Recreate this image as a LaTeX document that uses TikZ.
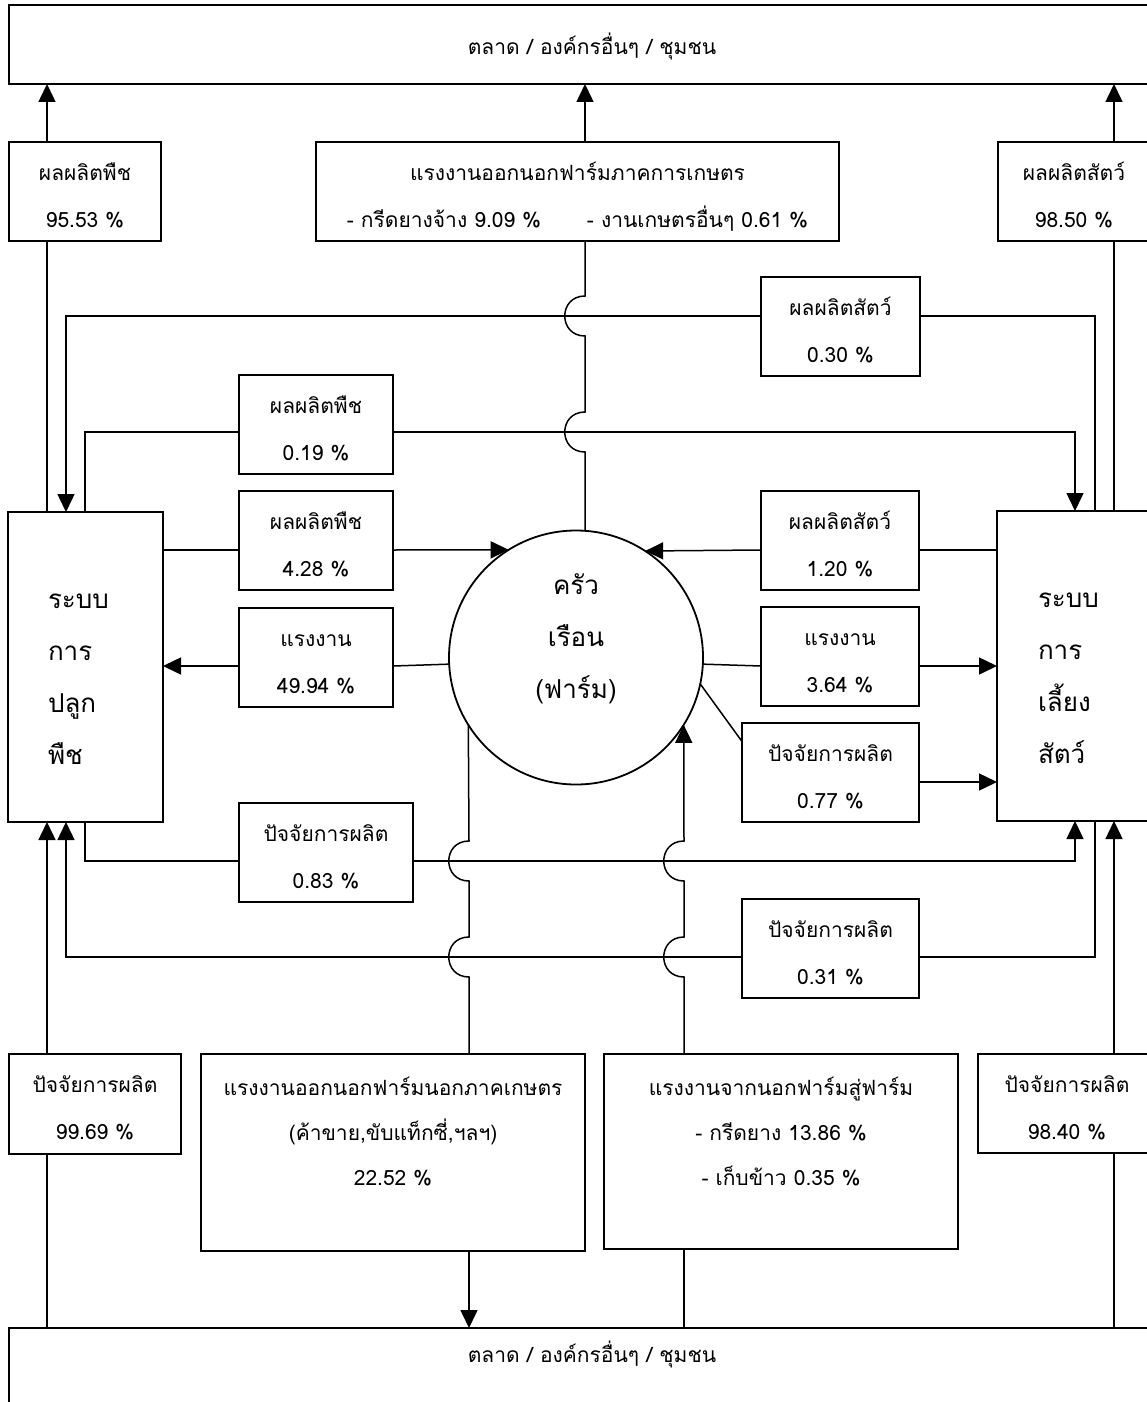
\documentclass[tikz,border=0pt]{standalone}
\usepackage{fontspec}
\setmainfont[Script=Thai]{Loma}
\usetikzlibrary{arrows.meta}
\begin{document}
\begin{tikzpicture}[x=1pt,y=-1pt,
  box/.style={draw, line width=1.8pt, anchor=north west, inner sep=0pt, outer sep=0pt,
    align=center, font=\fontsize{21}{47}\selectfont},
  two/.style={box, text height=85pt, text depth=14pt, minimum height=99pt},
  big/.style={box, align=left, font=\fontsize{26}{52}\selectfont, minimum height=310pt,
    text height=96pt, text depth=214pt},
  conn/.style={line width=1.5pt},
  arr/.style={conn, -{Triangle[length=18pt,width=17pt]}},
  hopdown/.style 2 args={insert path={-- (#1,#2-20) .. controls (#1-27,#2-20) and (#1-27,#2+20) .. (#1,#2+20)}},
  hopup/.style 2 args={insert path={-- (#1,#2+20) .. controls (#1-27,#2+20) and (#1-27,#2-20) .. (#1,#2-20)}},
]
\useasboundingbox (0,0) rectangle (1147,1402);
\fill[white] (0,0) rectangle (1147,1402);
\clip (0,0) rectangle (1147,1402);

% line levels
\coordinate (xa) at (47,0);
\coordinate (xc1) at (66,0);
\coordinate (xc2) at (85,0);
\coordinate (xm) at (585,0);
\coordinate (xn) at (469,0);
\coordinate (xo) at (684,0);
\coordinate (xl1) at (1075,0);
\coordinate (xl2) at (1095,0);
\coordinate (xl3) at (1114,0);
\coordinate (y1) at (0,316);
\coordinate (y2) at (0,432);
\coordinate (y3) at (0,550);
\coordinate (y4) at (0,666);
\coordinate (y5) at (0,782);
\coordinate (y6) at (0,861);
\coordinate (y7) at (0,957);

% outer boxes
\node[box, minimum width=1166pt, minimum height=79pt, text height=50pt, text depth=29pt] (top) at (9,5) {ตลาด / องค์กรอื่นๆ / ชุมชน};
\node[box, minimum width=1166pt, minimum height=100pt, text height=34pt, text depth=66pt] (bottom) at (9,1328) {ตลาด / องค์กรอื่นๆ / ชุมชน};

% top row
\node[two, minimum width=152pt] (A) at (9,142) {ผลผลิตพืช\\95.53 \%};
\node[two, minimum width=523pt] (B) at (316,142) {แรงงานออกนอกฟาร์มภาคการเกษตร\\- กรีดยางจ้าง 9.09 \%\hspace{46pt}- งานเกษตรอื่นๆ 0.61 \%};
\node[two, minimum width=152pt] (C) at (998,142) {ผลผลิตสัตว์\\98.50 \%};

% middle boxes
\node[two, minimum width=159pt] (D) at (761,277) {ผลผลิตสัตว์\\0.30 \%};
\node[two, minimum width=154pt] (E) at (239,375) {ผลผลิตพืช\\0.19 \%};
\node[two, minimum width=154pt] (F) at (239,491) {ผลผลิตพืช\\4.28 \%};
\node[two, minimum width=158pt] (G) at (761,491) {ผลผลิตสัตว์\\1.20 \%};
\node[two, minimum width=154pt] (H) at (239,608) {แรงงาน\\49.94 \%};
\node[two, minimum width=158pt] (I) at (761,607) {แรงงาน\\3.64 \%};
\node[two, minimum width=177pt] (J) at (742,723) {ปัจจัยการผลิต\\0.77 \%};
\node[two, minimum width=174pt] (K) at (239,803) {ปัจจัยการผลิต\\0.83 \%};
\node[two, minimum width=177pt] (L) at (742,899) {ปัจจัยการผลิต\\0.31 \%};

% systems
\node[big, minimum width=155pt, text width=75pt] (crop) at (8,512) {ระบบ\\การ\\ปลูก\\พืช};
\node[big, minimum width=170pt, text width=88pt] (live) at (997,511) {ระบบ\\การ\\เลี้ยง\\สัตว์};
\node[draw, circle, line width=1.8pt, minimum size=254pt, inner sep=0pt, outer sep=0pt,
  align=center, font=\fontsize{26}{52}\selectfont, text height=130pt, text depth=49pt]
  (circ) at (576,657.5) {ครัว\\เรือน\\(ฟาร์ม)};

% bottom row
\node[two, minimum width=172pt, minimum height=100pt] (M) at (9,1054) {ปัจจัยการผลิต\\99.69 \%};
\node[box, minimum width=384pt, minimum height=197pt, text height=131pt, text depth=66pt,
  font=\fontsize{21}{45}\selectfont] (N) at (201,1054) {แรงงานออกนอกฟาร์มนอกภาคเกษตร\\(ค้าขาย,ขับแท็กซี่,ฯลฯ)\\22.52 \%};
\node[box, minimum width=354pt, minimum height=195pt, text height=131pt, text depth=64pt,
  font=\fontsize{21}{45}\selectfont] (O) at (604,1054) {แรงงานจากนอกฟาร์มสู่ฟาร์ม\\- กรีดยาง 13.86 \%\\- เก็บข้าว 0.35 \%};
\node[two, minimum width=178pt] (P) at (978,1054) {ปัจจัยการผลิต\\98.40 \%};

% connectors: top row
\draw[arr] (xa |- A.north) -- (xa |- top.south);
\draw[conn] (xa |- A.south) -- (xa |- crop.north);
\draw[arr] (xm |- B.north) -- (xm |- top.south);
\draw[conn] (xm |- B.south) [hopdown={585}{316}] [hopdown={585}{432}] -- (xm |- circ.north);
\draw[arr] (xl3 |- C.north) -- (xl3 |- top.south);
\draw[conn] (xl3 |- C.south) -- (xl3 |- live.north);

% animal products 0.30
\draw[conn] (xl2 |- live.north) -- (xl2 |- y1) -- (D.east |- y1);
\draw[arr] (D.west |- y1) -- (xc1 |- y1) -- (xc1 |- crop.north);
% crop products 0.19
\draw[conn] (xc2 |- crop.north) -- (xc2 |- y2) -- (E.west |- y2);
\draw[arr] (E.east |- y2) -- (xl1 |- y2) -- (xl1 |- live.north);
% 4.28
\draw[conn] (crop.east |- y3) -- (F.west |- y3);
\draw[arr] (F.east |- y3) -- (circ.122.2);
% 1.20
\draw[conn] (live.west |- y3) -- (G.east |- y3);
\draw[arr] (G.west |- y3) -- (circ.57.8);
% labour 49.94
\draw[conn] (circ.183.8) -- (H.east |- y4);
\draw[arr] (H.west |- y4) -- (crop.east |- y4);
% labour 3.64
\draw[conn] (circ.-3.8) -- (I.west |- y4);
\draw[arr] (I.east |- y4) -- (live.west |- y4);
% inputs 0.77
\draw[conn] (circ.-12.3) -- ([yshift=31pt]J.west);
\draw[arr] (J.east |- y5) -- (live.west |- y5);
% inputs 0.83
\draw[conn] (xc2 |- crop.south) -- (xc2 |- y6) -- (K.west |- y6);
\draw[arr] (K.east |- y6) -- (xl1 |- y6) -- (xl1 |- live.south);
% inputs 0.31
\draw[conn] (xl2 |- live.south) -- (xl2 |- y7) -- (L.east |- y7);
\draw[arr] (L.west |- y7) -- (xc1 |- y7) -- (xc1 |- crop.south);

% bottom row
\draw[conn] (xa |- bottom.north) -- (xa |- M.south);
\draw[arr] (xa |- M.north) -- (xa |- crop.south);
\draw[conn] (circ.212.6) [hopdown={469}{861}] [hopdown={469}{957}] -- (xn |- N.north);
\draw[arr] (xn |- N.south) -- (xn |- bottom.north);
\draw[conn] (xo |- bottom.north) -- (xo |- O.south);
\draw[arr] (xo |- O.north) [hopup={684}{957}] [hopup={684}{861}] -- (circ.-32.2);
\draw[conn] (xl3 |- bottom.north) -- (xl3 |- P.south);
\draw[arr] (xl3 |- P.north) -- (xl3 |- live.south);
\end{tikzpicture}
\end{document}
